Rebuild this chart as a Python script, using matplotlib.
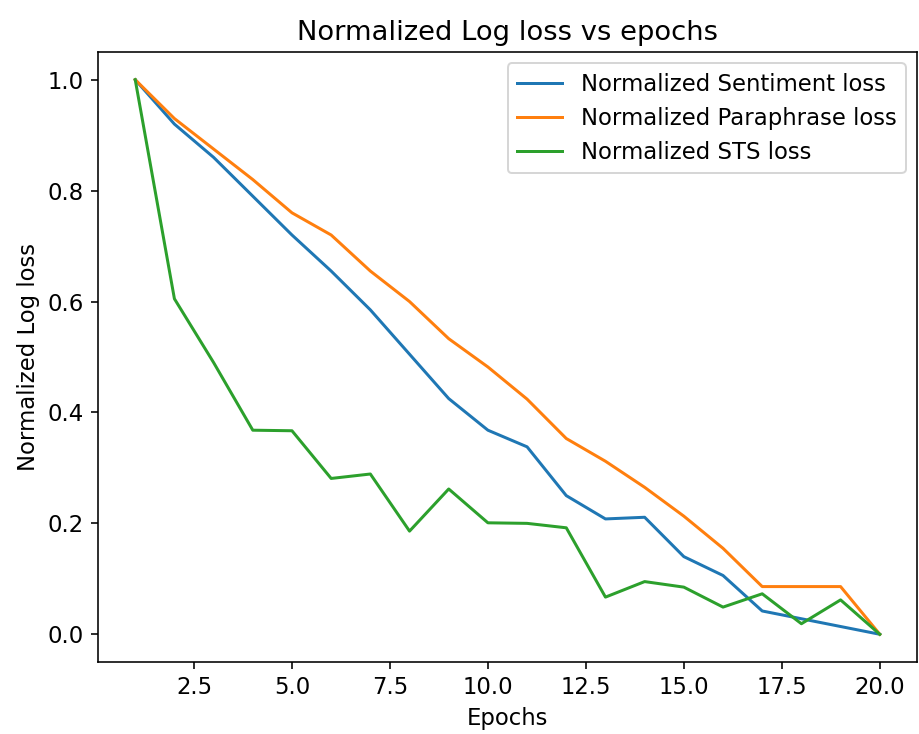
import numpy as np
import matplotlib
matplotlib.use("Agg")
import matplotlib.pyplot as plt

# Epochs 1..20
epochs = list(range(1, 21))

# Normalized losses
sentiment_loss = [1.0, 0.92, 0.86, 0.79, 0.72, 0.655, 0.585, 0.505, 0.425, 0.368,
                  0.338, 0.25, 0.208, 0.211, 0.14, 0.106, 0.042, 0.028, 0.014, 0.0]
paraphrase_loss = [1.0, 0.93, 0.875, 0.82, 0.76, 0.72, 0.655, 0.6, 0.533, 0.482,
                   0.424, 0.353, 0.312, 0.265, 0.213, 0.155, 0.086, 0.086, 0.086, 0.0]
sts_loss = [1.0, 0.605, 0.49, 0.368, 0.367, 0.281, 0.289, 0.186, 0.262, 0.201,
            0.2, 0.192, 0.067, 0.095, 0.085, 0.049, 0.073, 0.019, 0.062, 0.0]

plt.rcParams["font.size"] = 11.4

fig = plt.figure(figsize=(919 / 144, 734 / 144), dpi=144)
ax = fig.add_axes([98 / 919, 1 - 662 / 734, (917 - 98) / 919, (662 - 52) / 734])

ax.plot(epochs, sentiment_loss, label="Normalized Sentiment loss")
ax.plot(epochs, paraphrase_loss, label="Normalized Paraphrase loss")
ax.plot(epochs, sts_loss, label="Normalized STS loss")

ax.set_xlabel("Epochs")
ax.set_ylabel("Normalized Log loss")
ax.set_title("Normalized Log loss vs epochs")
ax.legend()

fig.savefig("out.png", dpi=144)
